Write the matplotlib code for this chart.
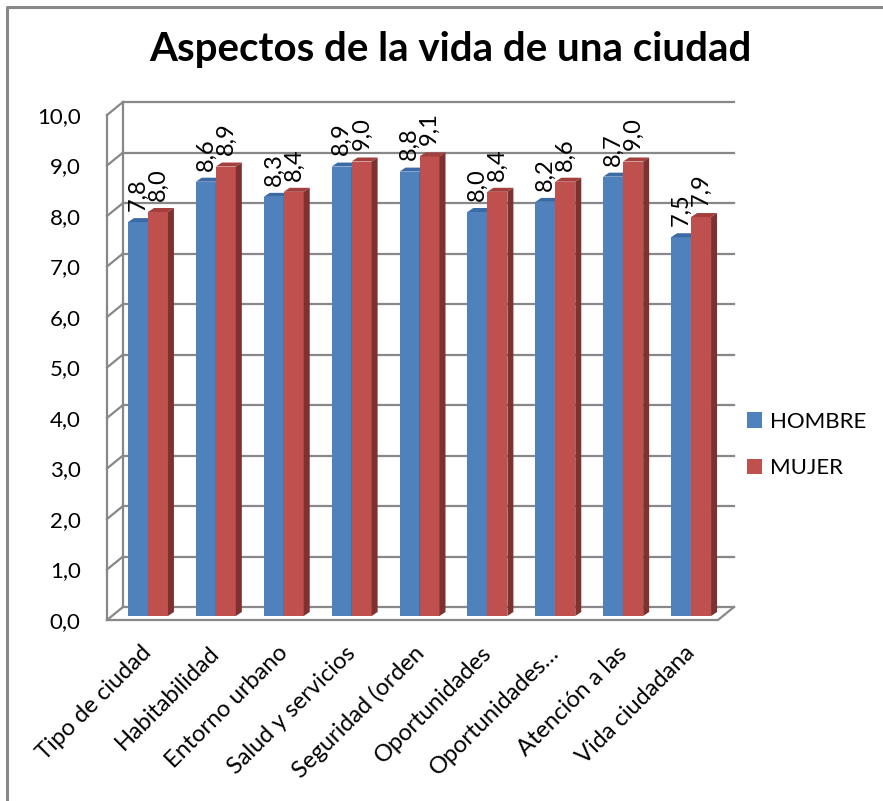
import matplotlib
matplotlib.use("Agg")
import matplotlib.pyplot as plt
from matplotlib.patches import Polygon, Patch
from matplotlib.lines import Line2D

categorias = ["Tipo de ciudad", "Habitabilidad", "Entorno urbano", "Salud y servicios",
              "Seguridad (orden", "Oportunidades", "Oportunidades…", "Atención a las",
              "Vida ciudadana"]
hombre = [7.8, 8.6, 8.3, 8.9, 8.8, 8.0, 8.2, 8.7, 7.5]
mujer = [8.0, 8.9, 8.4, 9.0, 9.1, 8.4, 8.6, 9.0, 7.9]
yticks = [0, 1, 2, 3, 4, 5, 6, 7, 8, 9, 10]

plt.rcParams["font.family"] = ["Lato", "DejaVu Sans"]

W, H = 883, 801
fig = plt.figure(figsize=(W / 100, H / 100), dpi=100)

# front plane of the 3d box in pixels
x0, x1 = 107, 718
y0, y1 = 620, 115
ax = fig.add_axes([x0 / W, 1 - y0 / H, (x1 - x0) / W, (y0 - y1) / H])
ax.set_xlim(-0.5, 8.5)
ax.set_ylim(0, 10)
ax.set_facecolor("none")
for s in ax.spines.values():
    s.set_visible(False)

pxx = (x1 - x0) / 9.0
pxy = (y0 - y1) / 10.0
# back wall offset
dxb, dyb = 16 / pxx, 13 / pxy
# bar face offset, bar depth
dxf, dyf = 7 / pxx, 4 / pxy
ddx, ddy = 6 / pxx, 4 / pxy
bw = 20 / pxx

grid_c = "#888888"
lw = 1.6
xl, xr = -0.5, 8.5
for v in yticks:
    ax.plot([xl + dxb, xr + dxb], [v + dyb, v + dyb], color=grid_c, lw=lw, clip_on=False, zorder=1)
    ax.plot([xl, xl + dxb], [v, v + dyb], color=grid_c, lw=lw, clip_on=False, zorder=1)
ax.plot([xl, xl], [0, 10], color=grid_c, lw=lw, clip_on=False, zorder=1)
ax.plot([xl + dxb, xl + dxb], [dyb, 10 + dyb], color=grid_c, lw=lw, clip_on=False, zorder=1)
ax.plot([xl, xr, xr + dxb], [0, 0, dyb], color=grid_c, lw=lw, clip_on=False, zorder=1)


def bar3d(xs, h, front, top, side):
    xa, xb = xs, xs + bw
    ya = dyf
    yb = h + dyf
    ax.add_patch(Polygon([[xa, ya], [xb, ya], [xb, yb], [xa, yb]], closed=True,
                         facecolor=front, edgecolor="none", zorder=3, clip_on=False))
    ax.add_patch(Polygon([[xa, yb], [xb, yb], [xb + ddx, yb + ddy], [xa + ddx, yb + ddy]],
                         closed=True, facecolor=top, edgecolor="none", zorder=3, clip_on=False))
    ax.add_patch(Polygon([[xb, ya], [xb + ddx, ya + ddy], [xb + ddx, yb + ddy], [xb, yb]],
                         closed=True, facecolor=side, edgecolor="none", zorder=3, clip_on=False))


for i in range(len(categorias)):
    c = i + dxf
    bar3d(c - bw, hombre[i], "#4F81BD", "#3B6BA5", "#2F5A8C")
    bar3d(c, mujer[i], "#C0504D", "#A33F3C", "#7E3230")
    ax.text(c - bw / 2, hombre[i] + dyf + 0.22, f"{hombre[i]:.1f}".replace(".", ","),
            rotation=90, ha="center", va="bottom", fontsize=17, zorder=4)
    ax.text(c + bw / 2, mujer[i] + dyf + 0.22, f"{mujer[i]:.1f}".replace(".", ","),
            rotation=90, ha="center", va="bottom", fontsize=17, zorder=4)

ax.set_yticks(yticks)
ax.set_yticklabels([f"{v:.1f}".replace(".", ",") for v in yticks], fontsize=16)
ax.set_xticks([i + 0.0 for i in range(len(categorias))])
ax.set_xticklabels(categorias, rotation=45, ha="right", rotation_mode="anchor", fontsize=17)
ax.tick_params(axis="both", length=0)
ax.tick_params(axis="y", pad=19)
ax.tick_params(axis="x", pad=16)

fig.text(450 / W, 1 - 50 / H, "Aspectos de la vida de una ciudad", ha="center", va="center",
         fontsize=29, fontweight="bold")

handles = [Patch(facecolor="#4F81BD"), Patch(facecolor="#C0504D")]
fig.legend(handles, ["HOMBRE", "MUJER"], loc="center left",
           bbox_to_anchor=(747 / W, 1 - 445 / H), frameon=False, fontsize=16,
           handlelength=0.68, handleheight=0.68, labelspacing=1.2, handletextpad=0.35,
           borderaxespad=0, borderpad=0)

# outer border (only top and left visible)
fig.lines.append(Line2D([7 / W, 7 / W, 1], [0, 1 - 7 / H, 1 - 7 / H], transform=fig.transFigure,
                        color="#888888", lw=2.2))

fig.savefig("out.png", dpi=100)
